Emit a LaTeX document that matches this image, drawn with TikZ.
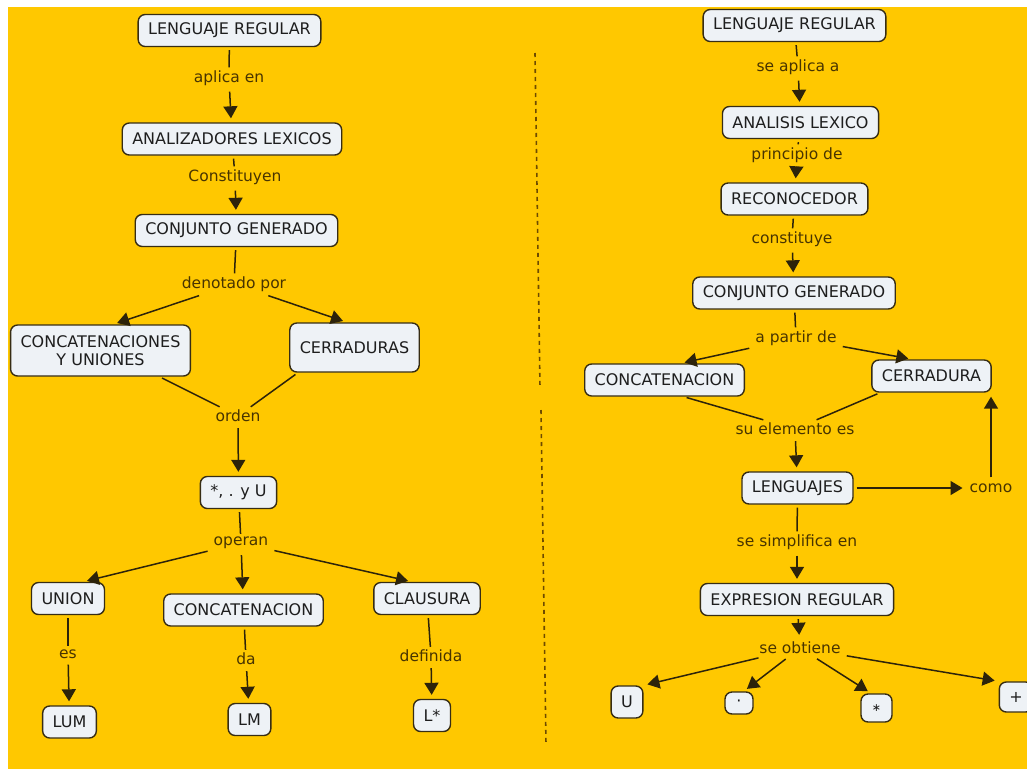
\documentclass[tikz,border=0pt]{standalone}
\usepackage{fontspec}
\setmainfont{DejaVu Sans}
\usetikzlibrary{arrows.meta,calc}
\definecolor{mapbg}{RGB}{255,200,0}
\definecolor{boxfill}{RGB}{238,242,246}
\definecolor{boxline}{RGB}{55,45,20}
\definecolor{boxtext}{RGB}{30,30,30}
\definecolor{linktext}{RGB}{72,52,0}
\definecolor{linkline}{RGB}{45,35,10}
\definecolor{sepline}{RGB}{110,75,0}
\def\boxgap{3pt}
\def\tipgap{4pt}
\tikzset{
  concept/.style={
    rectangle, rounded corners=7pt,
    draw=boxline, line width=1.4pt,
    fill=boxfill, text=boxtext,
    minimum height=32pt,
    inner xsep=10pt, inner ysep=2pt,
    align=center,
    font=\fontsize{16}{18.5}\selectfont
  },
  linkph/.style={
    inner sep=3pt,
    text=linktext,
    font=\fontsize{15.5}{18}\selectfont
  },
  conn/.style={draw=linkline, line width=1.5pt, shorten <=\boxgap},
  arr/.style={conn, -{Triangle[length=12pt,width=14pt]}, shorten >=\tipgap},
}

\begin{document}
\begin{tikzpicture}[x=1pt, y=-1pt]
    \useasboundingbox (0,0) rectangle (1027,769);
    \fill[white] (0,0) rectangle (1027,769);
    \fill[mapbg] (8,7) rectangle (1027,769);

    %% Separator
    \draw[sepline, line width=1.6pt, dash pattern=on 4pt off 4pt] (535,53) -- (540,388);
    \draw[sepline, line width=1.6pt, dash pattern=on 4pt off 4pt] (541,410) -- (546,745);

    %% Left map
    \node[concept] (lr) at (229.5,30.5) {LENGUAJE REGULAR};
    \node[linkph] (ap) at (229,78) {aplica en};
    \node[concept] (al) at (232,139) {ANALIZADORES LEXICOS};
    \node[linkph] (cn) at (235,177) {Constituyen};
    \node[concept] (cg) at (236.5,230.5) {CONJUNTO GENERADO};
    \node[linkph] (dp) at (234,284) {denotado por};
    \node[concept, minimum height=51pt] (cu) at (100.5,350.5) {CONCATENACIONES\\Y UNIONES};
    \node[concept, minimum height=49pt] (ce) at (354.5,347.5) {CERRADURAS};
    \node[linkph] (od) at (238,416) {orden};
    \node[concept] (op) at (238.5,492.5) {*, . y U};
    \node[linkph] (opr) at (241,543) {operan};

    % Row of operations
    \node[concept] (un) at (68,598.5) {UNION};
    \node[concept] (cc) at (243.5,610) {CONCATENACION};
    \node[concept] (cl) at (427,598.5) {CLAUSURA};
    \node[linkph] (es) at (68,654) {es};
    \node[linkph] (da) at (246,659) {da};
    \node[linkph] (df) at (431,656) {definida};
    \node[concept] (lum) at (69.5,722) {LUM};
    \node[concept] (lm) at (249.5,719.5) {LM};
    \node[concept] (ls) at (432,715.5) {L*};

    %% Right map
    \node[concept] (rr) at (794.5,25.5) {LENGUAJE REGULAR};
    \node[linkph] (sa) at (798,67) {se aplica a};
    \node[concept] (alx) at (800.5,122.5) {ANALISIS LEXICO};
    \node[linkph] (pd) at (797,155) {principio de};
    \node[concept] (rc) at (794.5,199) {RECONOCEDOR};
    \node[linkph] (cs) at (792,239) {constituye};
    \node[concept] (cg2) at (794,293) {CONJUNTO GENERADO};
    \node[linkph] (pa) at (796,338) {a partir de};
    \node[concept] (cn2) at (664.5,380) {CONCATENACION};
    \node[concept] (cr) at (931.5,376) {CERRADURA};
    \node[linkph] (se) at (795,429) {su elemento es};
    \node[concept] (lg) at (797.5,488) {LENGUAJES};
    \node[linkph] (co) at (991,488) {como};
    \node[linkph] (sf) at (797,542) {se simplifica en};
    \node[concept] (er) at (797,599.5) {EXPRESION REGULAR};
    \node[linkph] (so) at (800,648) {se obtiene};

    % Operators
    \node[concept] (u) at (627,702) {U};
    \node[concept, minimum height=22pt, minimum width=28pt] (pt) at (739,703) {·};
    \node[concept, minimum height=28pt, minimum width=31pt, font=\fontsize{11}{13}\selectfont] (st) at (876.5,708) {∗};
    \node[concept, minimum height=30pt] (pl) at (1016,697) {+};

    %% Edges left
    \draw[conn] (lr) -- (ap);
    \draw[arr] (ap) -- (al);
    \draw[conn] (al) -- (cn);
    \draw[arr] (cn) -- (cg);
    \draw[conn] (cg) -- (dp);
    \draw[arr] (dp) -- (cu.64);
    \draw[arr] (dp) -- (ce.107);
    \draw[conn] (cu.-24) -- (od);
    \draw[conn] (ce.204) -- (od);
    \draw[arr] (od) -- (op);
    \draw[conn] (op) -- (opr);
    \draw[arr] (opr) -- (un.48);
    \draw[arr] (opr) -- (cc);
    \draw[arr] (opr) -- (cl.132);
    \draw[conn] (un) -- (es);
    \draw[arr] (es) -- (lum);
    \draw[conn] (cc) -- (da);
    \draw[arr] (da) -- (lm);
    \draw[conn] (cl) -- (df);
    \draw[arr] (df) -- (ls);

    %% Edges right
    \draw[conn] (rr) -- (sa);
    \draw[arr] (sa) -- (alx);
    \draw[conn] (alx) -- (pd);
    \draw[arr] (pd) -- (rc);
    \draw[conn] (rc) -- (cs);
    \draw[arr] (cs) -- (cg2);
    \draw[conn] (cg2) -- (pa);
    \draw[arr] (pa) -- (cn2.46);
    \draw[arr] (pa) -- (cr.139);
    \draw[conn] (cn2.-41) -- (se);
    \draw[conn] (cr.198) -- (se);
    \draw[arr] (se) -- (lg);
    \draw[arr] (lg) -- (co);
    \draw[arr] (co) -- (co |- cr.south);
    \draw[conn] (lg) -- (sf);
    \draw[arr] (sf) -- (er);
    \draw[arr] (er) -- (so);
    \draw[arr] (so) -- (u.north east);
    \draw[arr] (so) -- (pt.68);
    \draw[arr] (so) -- (st.110);
    \draw[arr] (so) -- (pl.north west);

\end{tikzpicture}
\end{document}
